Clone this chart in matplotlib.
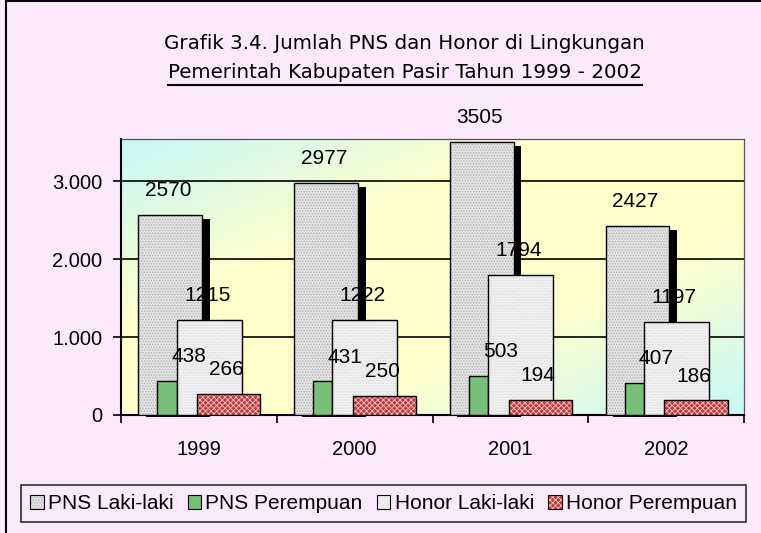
"""
plot.py — Grafik 3.4: Jumlah PNS dan Honor, Kabupaten Pasir 1999-2002.

Excel-style overlapping bar chart with a gradient plot area,
data labels and a boxed legend underneath. Saves out.png.
"""
import numpy as np
import matplotlib

matplotlib.use("Agg")
import matplotlib.pyplot as plt
from matplotlib.colors import LinearSegmentedColormap
from matplotlib.legend_handler import HandlerTuple
from matplotlib.lines import Line2D
from matplotlib.patches import Patch

# ── Data ──────────────────────────────────────────────────────────────────────
years = ["1999", "2000", "2001", "2002"]
series_names = ["PNS Laki-laki", "PNS Perempuan", "Honor Laki-laki", "Honor Perempuan"]
pns_laki = [2570, 2977, 3505, 2427]
pns_perempuan = [438, 431, 503, 407]
honor_laki = [1215, 1222, 1794, 1197]
honor_perempuan = [266, 250, 194, 186]
y_ticks = [0, 1000, 2000, 3000]
y_tick_labels = ["0", "1.000", "2.000", "3.000"]

title_line1 = "Grafik 3.4. Jumlah PNS dan Honor di Lingkungan"
title_line2 = "Pemerintah Kabupaten Pasir Tahun 1999 - 2002"

# ── Style ─────────────────────────────────────────────────────────────────────
FIG_BG = "#FDE9FD"
NUM_FONT = ["Liberation Sans", "DejaVu Sans"]
TITLE_FONT = ["DejaVu Sans"]

# (left offset in category, width, face, hatch, hatch colour, label dx px)
bar_style = [
    (0.111, 0.410, "#E2E2E2", "......", "#B0B0B0", -2),
    (0.233, 0.124, "#78C078", None, None, 22),
    (0.357, 0.417, "#F0F0F0", "......", "#DADADA", -2),
    (0.489, 0.406, "#C03A3A", "xxxxxx", "#F2C4C4", -2),
]

plt.rcParams["hatch.linewidth"] = 0.6

fig = plt.figure(figsize=(7.61, 5.33), dpi=100, facecolor=FIG_BG)
ax = fig.add_axes([121 / 761, 1 - 415 / 533, 623 / 761, 276 / 533])

# ── Gradient plot area ────────────────────────────────────────────────────────
cmap = LinearSegmentedColormap.from_list(
    "bg", ["#C6F8F8", "#FFFFCC", "#FFFFCC", "#C6F8F8"]
)
u = np.linspace(0, 1, 300)
v = np.linspace(1, 0, 200)
uu, vv = np.meshgrid(u, v)
grad = (uu + (1 - vv)) / 2
ax.imshow(grad, cmap=cmap, extent=[0, 1, 0, 1], transform=ax.transAxes,
          aspect="auto", zorder=0, interpolation="bicubic")

ax.set_xlim(0, len(years))
ax.set_ylim(0, 3540)

for yv in y_ticks[1:]:
    ax.axhline(yv, color="black", lw=1.2, zorder=1)

# ── Bars ──────────────────────────────────────────────────────────────────────
values = [pns_laki, pns_perempuan, honor_laki, honor_perempuan]
x0 = np.arange(len(years))
px_x = len(years) / 623.0          # data units per pixel (x)
px_y = 3540 / 276.0                # data units per pixel (y)

# shadow behind PNS Laki-laki (shifted right, top dropped a few pixels)
off, w = bar_style[0][0], bar_style[0][1]
ax.bar(x0 + off + 7.7 * px_x, np.array(pns_laki) - 2.3 * px_y, width=w,
       bottom=-2.0 * px_y, align="edge", color="black", lw=0, zorder=2,
       clip_on=False)

zorders = [3, 4, 5, 6]
for vals, (off, w, face, hatch, hcol, _), z in zip(values, bar_style, zorders):
    if hatch:
        ax.bar(x0 + off, vals, width=w, align="edge", color=face,
               edgecolor=hcol, hatch=hatch, lw=0, zorder=z)
        ax.bar(x0 + off, vals, width=w, align="edge", fill=False,
               edgecolor="black", lw=1.0, zorder=z)
    else:
        ax.bar(x0 + off, vals, width=w, align="edge", color=face,
               edgecolor="black", lw=1.0, zorder=z)

# data labels
for vals, (off, w, _, _, _, dx) in zip(values, bar_style):
    for i, val in enumerate(vals):
        ax.annotate(str(val), (x0[i] + off + w / 2, val),
                    xytext=(dx * 0.72, 17.5), textcoords="offset points",
                    ha="center", va="center", fontsize=15, family=NUM_FONT,
                    zorder=10, annotation_clip=False)

# ── Axes cosmetics ────────────────────────────────────────────────────────────
ax.set_yticks(y_ticks)
ax.set_yticklabels(y_tick_labels, family=NUM_FONT, fontsize=14.5)
ax.set_xticks(np.arange(len(years) + 1))
ax.set_xticklabels([])
ax.set_xticks(x0 + 0.5, minor=True)
ax.set_xticklabels(years, minor=True, family=NUM_FONT, fontsize=14.5)
ax.tick_params(axis="y", direction="out", length=6, width=1.2, pad=7.5)
ax.tick_params(axis="x", which="major", direction="out", length=5.5, width=1.2)
ax.tick_params(axis="x", which="minor", length=0, pad=18)

for side in ("left", "bottom"):
    ax.spines[side].set_linewidth(1.5)
for side in ("top", "right"):
    ax.spines[side].set_color("#555555")
    ax.spines[side].set_linewidth(0.9)

# ── Title (second line underlined) ────────────────────────────────────────────
fig.text(404 / 761, 1 - 43 / 533, title_line1, ha="center", va="center",
         fontsize=14.3, family=TITLE_FONT)
t2 = fig.text(405 / 761, 1 - 72 / 533, title_line2, ha="center", va="center",
              fontsize=14.3, family=TITLE_FONT)
fig.canvas.draw()
bb = t2.get_window_extent().transformed(fig.transFigure.inverted())
fig.add_artist(Line2D([bb.x0, bb.x1], [1 - 85 / 533] * 2, color="black",
                      lw=1.5, transform=fig.transFigure))

# ── Legend ────────────────────────────────────────────────────────────────────
handles = []
for (off, w, face, hatch, hcol, _) in bar_style:
    if hatch:
        fill = Patch(facecolor=face, edgecolor=hcol, hatch=hatch, lw=0)
        outline = Patch(fill=False, edgecolor="black", lw=0.8)
        handles.append((fill, outline))
    else:
        handles.append(Patch(facecolor=face, edgecolor="black", lw=0.8))
leg = fig.legend(handles, series_names, loc="center",
                 bbox_to_anchor=(383.5 / 761, 1 - 503.5 / 533), ncol=4,
                 frameon=True, fancybox=False, edgecolor="black",
                 facecolor=FIG_BG, handlelength=0.65, handleheight=0.65,
                 handletextpad=0.2, columnspacing=0.68, borderpad=0.45,
                 borderaxespad=0.3, prop={"family": NUM_FONT, "size": 15},
                 handler_map={tuple: HandlerTuple(ndivide=1, pad=0)})
leg.get_frame().set_linewidth(1.2)

# figure border (only left and top edges are in the crop)
fig.add_artist(Line2D([6 / 761, 6 / 761], [0, 1 - 1 / 533], color="black",
                      lw=1.5, transform=fig.transFigure))
fig.add_artist(Line2D([6 / 761, 1], [1 - 1 / 533] * 2, color="black",
                      lw=1.5, transform=fig.transFigure))

fig.savefig("out.png", dpi=100, facecolor=FIG_BG)
